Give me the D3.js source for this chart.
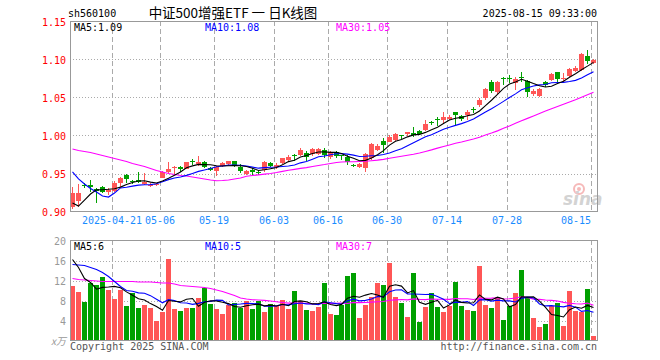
<!DOCTYPE html>
<html>
<head>
<meta charset="utf-8">
<script src="https://cdn.jsdelivr.net/npm/d3@7/dist/d3.min.js"></script>
<style>
  body { margin: 0; background: #fff; }
  text { font-family: "DejaVu Sans Mono", monospace; font-size: 10px; }
</style>
</head>
<body>
<div id="chart"></div>
<script>
// trading days, 2025
var dates = ["04-10","04-11","04-14","04-15","04-16","04-17","04-18","04-21","04-22","04-23","04-24","04-25","04-28","04-29","04-30",
  "05-06","05-07","05-08","05-09","05-12","05-13","05-14","05-15","05-16","05-19","05-20","05-21","05-22","05-23","05-26","05-27","05-28","05-29","05-30",
  "06-03","06-04","06-05","06-06","06-09","06-10","06-11","06-12","06-13","06-16","06-17","06-18","06-19","06-20","06-23","06-24","06-25","06-26","06-27","06-30",
  "07-01","07-02","07-03","07-04","07-07","07-08","07-09","07-10","07-11","07-14","07-15","07-16","07-17","07-18","07-21","07-22","07-23","07-24","07-25","07-28","07-29","07-30","07-31",
  "08-01","08-04","08-05","08-06","08-07","08-08","08-11","08-12","08-13","08-14","08-15"]

var opens = [0.905,0.915,0.935,0.935,0.929,0.932,0.926,0.927,0.937,0.948,
  0.9395,0.941,0.937,0.934,0.935,0.945,0.9515,0.958,0.958,0.956,
  0.966,0.963,0.9647,0.957,0.9525,0.959,0.9625,0.9665,0.958,0.950,
  0.955,0.9525,0.9537,0.9635,0.9585,0.9635,0.9685,0.9745,0.9745,0.9775,
  0.9757,0.9765,0.981,0.971,0.978,0.974,0.972,0.9615,0.958,0.9577,
  0.970,0.981,0.993,0.9925,0.994,1.0005,1.001,1.003,1.0055,1.0075,
  1.0175,1.022,1.0205,1.0225,1.0305,1.026,1.027,1.035,1.041,1.049,
  1.071,1.057,1.075,1.076,1.069,1.077,1.072,1.0555,1.052,1.070,
  1.073,1.083,1.0735,1.078,1.085,1.086,1.1045,1.0955]
var highs = [0.932,0.936,0.938,0.9415,0.931,0.933,0.931,0.940,0.946,0.950,
  0.941,0.9525,0.9505,0.937,0.938,0.953,0.9647,0.960,0.960,0.965,
  0.969,0.973,0.966,0.958,0.960,0.9645,0.967,0.967,0.9625,0.955,
  0.957,0.954,0.966,0.9645,0.964,0.971,0.974,0.9755,0.983,0.9795,
  0.983,0.984,0.983,0.979,0.979,0.975,0.9745,0.963,0.964,0.9765,
  0.990,0.989,0.9965,1.000,1.003,1.001,1.005,1.0115,1.007,1.020,
  1.019,1.025,1.0305,1.027,1.0315,1.027,1.034,1.038,1.0495,1.063,
  1.073,1.072,1.0775,1.079,1.077,1.083,1.073,1.0615,1.062,1.072,
  1.082,1.084,1.082,1.089,1.091,1.108,1.1125,1.100]
var lows = [0.903,0.906,0.931,0.9255,0.911,0.924,0.922,0.926,0.932,0.937,
  0.936,0.937,0.935,0.932,0.934,0.945,0.950,0.950,0.9525,0.9555,
  0.961,0.960,0.957,0.953,0.947,0.958,0.961,0.958,0.9505,0.948,
  0.948,0.948,0.952,0.958,0.956,0.962,0.966,0.967,0.973,0.967,
  0.973,0.975,0.971,0.969,0.971,0.968,0.961,0.958,0.957,0.9525,
  0.968,0.979,0.977,0.991,0.993,0.995,0.999,0.998,1.000,1.006,
  1.014,1.013,1.016,1.0205,1.013,1.019,1.021,1.029,1.038,1.047,
  1.056,1.055,1.0665,1.0685,1.0595,1.0705,1.051,1.052,1.051,1.064,
  1.0715,1.0705,1.069,1.077,1.084,1.085,1.0935,1.094]
var closes = [0.924,0.925,0.934,0.933,0.926,0.925,0.928,0.938,0.9435,0.9425,
  0.939,0.938,0.939,0.935,0.9365,0.9525,0.9555,0.959,0.956,0.9647,
  0.965,0.965,0.958,0.9546,0.958,0.9635,0.9665,0.960,0.9525,0.9535,
  0.9525,0.951,0.9647,0.960,0.9615,0.970,0.972,0.974,0.981,0.972,
  0.982,0.9825,0.9745,0.978,0.973,0.973,0.9648,0.961,0.962,0.9757,
  0.989,0.986,0.9875,0.9985,1.0016,0.9995,1.004,1.0005,1.0015,1.015,
  1.0165,1.021,1.025,1.0245,1.026,1.0225,1.0315,1.034,1.047,1.061,
  1.0585,1.070,1.074,1.075,1.0745,1.076,1.057,1.059,1.061,1.0665,
  1.081,1.074,1.075,1.087,1.089,1.107,1.0985,1.0995]

// volume, 万手
var volumes = [11.0,9.8,7.8,11.5,11.2,12.8,10.2,8.4,10.2,7.0,
  9.5,6.6,7.2,6.6,4.0,5.8,16.4,6.4,6.0,6.6,
  6.6,8.6,10.5,7.4,6.4,5.4,7.2,7.6,6.6,7.9,
  6.4,7.9,5.8,7.4,7.0,8.2,6.4,10.0,8.0,6.2,
  6.0,6.8,11.6,5.4,5.1,7.2,13.0,13.5,4.5,7.2,
  8.8,11.5,11.2,15.5,8.7,7.5,4.7,13.5,3.8,6.7,
  9.5,6.7,5.7,7.0,11.7,7.0,6.1,5.9,14.9,7.2,
  6.5,8.8,4.2,7.0,9.5,14.2,8.5,4.5,2.7,3.3,
  7.0,7.5,3.0,10.0,6.0,5.8,10.3,0.9]

// moving-average values before a full window exists
var ma5Head = [0.9112,0.9072,0.9151,0.9230]
var ma10Head = [0.952,0.9428,0.9362,0.9303,0.9257,0.9204,0.919,0.9243,0.931]
var ma30Head = [0.9823,0.9803,0.9790,0.9776,0.9757,0.9737,0.9717,0.9697,0.9678,0.9658,
  0.9632,0.9612,0.9592,0.9566,0.9540,0.9520,0.9500,0.9487,0.9474,0.9467,
  0.9454,0.9441,0.9428,0.9415,0.9405,0.9408,0.9415,0.9428,0.9441]
var vma5Head = [16.2,14.6,12.4,11.6]
var vma10Head = [15.2,15.1,15.0,14.6,14.2,13.6,12.8,11.8,10.8]
var vma30Head = [12.4,12.2,12.1,12.0,11.9,11.8,11.8,11.8,11.8,11.8,
  11.8,11.7,11.7,11.7,11.6,11.5,11.5,11.3,11.0,10.9,
  10.8,10.7,10.6,10.4,10.1,9.8,9.4,9.0,8.5]

var priceTicks = [0.90, 0.95, 1.00, 1.05, 1.10, 1.15]
var volTicks = [4, 8, 12, 16, 20]
var tickDates = ["04-21","05-06","05-19","06-03","06-16","06-30","07-14","07-28","08-15"]
var tickLabels = ["2025-04-21","05-06","05-19","06-03","06-16","06-30","07-14","07-28","08-15"]
var priceLegend = ["MA5:1.09", "MA10:1.08", "MA30:1.05"]
var volLegend = ["MA5:6", "MA10:5", "MA30:7"]
var maColors = ["#000000", "#0000ff", "#ff00ff"]

var red = "#ff5656", green = "#00a000", gridColor = "#aaaaaa", borderColor = "#999999"

function movingAvg(values, n, head) {
  return values.map(function(v, i) {
    if (i < n - 1) return head[i]
    return d3.mean(values.slice(i - n + 1, i + 1))
  })
}

var svg = d3.select("#chart").append("svg")
    .attr("width", 660)
    .attr("height", 360)

var left = 70, right = 597

var x = d3.scaleBand()
    .domain(dates)
    .range([left, right])

var priceY = d3.scaleLinear().domain([0.90, 1.15]).range([211.5, 21.5])
var volY = d3.scaleLinear().domain([0, 20]).range([340.5, 240.5])

function bx(d) { return Math.round(x(d)) }

// header
svg.append("text").attr("x", 68).attr("y", 17).text("sh560100").attr("fill", "#000")
svg.append("text").attr("x", 233).attr("y", 18)
    .attr("text-anchor", "middle")
    .style("font-family", "'Noto Sans CJK SC', sans-serif")
    .style("font-size", "13.5px")
    .attr("fill", "#000")
    .text("中证500增强ETF 一 日K线图")
svg.append("text").attr("x", 597).attr("y", 17).attr("text-anchor", "end").text("2025-08-15 09:33:00")

function panel(yScale, ticks, top, bottom, tickColor, tickFmt) {
  var g = svg.append("g")
  // horizontal dotted grid
  g.selectAll(".hgrid")
    .data(ticks.filter(function(t) { return Math.abs(yScale(t) - top) > 2 && Math.abs(yScale(t) - bottom) > 2 }))
    .enter().append("line")
    .attr("x1", left).attr("x2", right)
    .attr("y1", function(t) { return Math.round(yScale(t)) + 0.5 })
    .attr("y2", function(t) { return Math.round(yScale(t)) + 0.5 })
    .attr("stroke", gridColor)
    .attr("stroke-dasharray", "1,2")
  // vertical dashed grid
  g.selectAll(".vgrid")
    .data(tickDates)
    .enter().append("line")
    .attr("x1", function(d) { return bx(d) + 0.5 })
    .attr("x2", function(d) { return bx(d) + 0.5 })
    .attr("y1", top).attr("y2", bottom)
    .attr("stroke", gridColor)
    .attr("stroke-dasharray", "5,3")
  // tick labels
  g.selectAll(".tick")
    .data(ticks)
    .enter().append("text")
    .attr("x", 66)
    .attr("y", function(t) { return yScale(t) + 4 })
    .attr("text-anchor", "end")
    .attr("fill", tickColor)
    .text(tickFmt)
  return g
}

function border(top, bottom) {
  svg.append("rect")
    .attr("x", left + 0.5).attr("y", top + 0.5)
    .attr("width", right - left).attr("height", bottom - top)
    .attr("fill", "none")
    .attr("stroke", borderColor)
}

function maLine(values, yScale, color) {
  var line = d3.line()
    .x(function(v, i) { return bx(dates[i]) + 2.5 })
    .y(function(v) { return yScale(v) })
  svg.append("path")
    .datum(values)
    .attr("d", line)
    .attr("fill", "none")
    .attr("stroke", color)
    .attr("stroke-width", 1.1)
}

// ---------- price panel ----------
panel(priceY, priceTicks, 21, 211, "#ff0000", d3.format(".2f"))

var candles = dates.map(function(d, i) {
  return { date: d, o: opens[i], h: highs[i], l: lows[i], c: closes[i] }
})

svg.append("g").selectAll("rect.wick")
    .data(candles)
    .enter().append("rect")
    .attr("x", function(d) { return bx(d.date) + 2 })
    .attr("width", 1)
    .attr("y", function(d) { return Math.round(priceY(d.h)) })
    .attr("height", function(d) { return Math.max(1, Math.round(priceY(d.l)) - Math.round(priceY(d.h))) })
    .attr("fill", function(d) { return d.c >= d.o ? red : green })

svg.append("g").selectAll("rect.body")
    .data(candles)
    .enter().append("rect")
    .attr("x", function(d) { return bx(d.date) })
    .attr("width", 5)
    .attr("y", function(d) { return Math.round(priceY(Math.max(d.o, d.c))) })
    .attr("height", function(d) { return Math.max(1, Math.round(Math.abs(priceY(d.o) - priceY(d.c)))) })
    .attr("fill", function(d) { return d.c >= d.o ? red : green })

// sina watermark
var wm = svg.append("g").attr("opacity", 0.55)
wm.append("circle").attr("cx", 579).attr("cy", 189).attr("r", 5).attr("fill", "none").attr("stroke", "#f08080").attr("stroke-width", 2)
wm.append("circle").attr("cx", 579).attr("cy", 189).attr("r", 2).attr("fill", "#f08080")
wm.append("text").attr("x", 563).attr("y", 205)
    .style("font-family", "'DejaVu Sans', sans-serif")
    .style("font-size", "17px").style("font-style", "italic").style("font-weight", "bold")
    .attr("fill", "#b0b0b0").text("sina")

maLine(movingAvg(closes, 30, ma30Head), priceY, maColors[2])
maLine(movingAvg(closes, 10, ma10Head), priceY, maColors[1])
maLine(movingAvg(closes, 5, ma5Head), priceY, maColors[0])

border(21, 211)

var legendX = [74, 205, 336]
svg.selectAll(".plegend")
    .data(priceLegend)
    .enter().append("text")
    .attr("x", function(d, i) { return legendX[i] })
    .attr("y", 31)
    .attr("fill", function(d, i) { return maColors[i] })
    .text(function(d) { return d })

// date labels
svg.selectAll(".xlabel")
    .data(tickDates)
    .enter().append("text")
    .attr("x", function(d) { return bx(d) })
    .attr("y", 224)
    .attr("text-anchor", function(d, i) { return i === tickDates.length - 1 ? "end" : "middle" })
    .attr("fill", "#1a8cff")
    .text(function(d, i) { return tickLabels[i] })

// ---------- volume panel ----------
panel(volY, volTicks, 240, 340, "#999999", function(t) { return t })

svg.append("g").selectAll("rect.vol")
    .data(candles)
    .enter().append("rect")
    .attr("x", function(d) { return bx(d.date) })
    .attr("width", 5)
    .attr("y", function(d, i) { return Math.round(volY(volumes[i])) })
    .attr("height", function(d, i) { return Math.round(volY(0)) - Math.round(volY(volumes[i])) })
    .attr("fill", function(d) { return d.c >= d.o ? red : green })

maLine(movingAvg(volumes, 30, vma30Head), volY, maColors[2])
maLine(movingAvg(volumes, 10, vma10Head), volY, maColors[1])
maLine(movingAvg(volumes, 5, vma5Head), volY, maColors[0])

border(240, 340)

svg.selectAll(".vlegend")
    .data(volLegend)
    .enter().append("text")
    .attr("x", function(d, i) { return legendX[i] })
    .attr("y", 250)
    .attr("fill", function(d, i) { return maColors[i] })
    .text(function(d) { return d })

svg.append("text").attr("x", 66).attr("y", 345).attr("text-anchor", "end")
    .attr("fill", "#999").style("font-style", "italic")
    .style("font-family", "'Noto Sans CJK SC', sans-serif")
    .text("x万")

svg.append("text").attr("x", 70).attr("y", 350).attr("fill", "#555").text("Copyright 2025 SINA.COM")
svg.append("text").attr("x", 597).attr("y", 350).attr("text-anchor", "end").attr("fill", "#555").text("http://finance.sina.com.cn")
</script>
</body>
</html>
